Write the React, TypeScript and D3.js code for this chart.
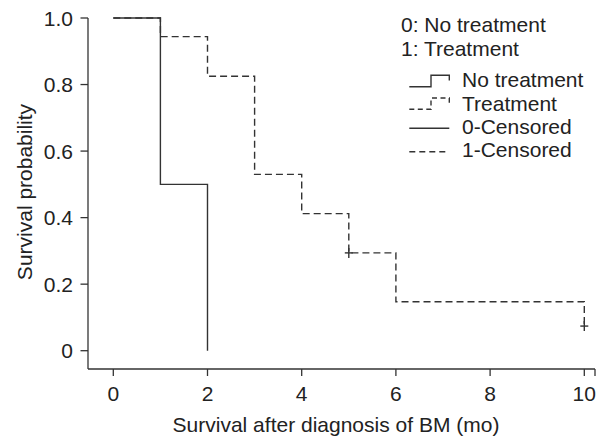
import React from "react";
import * as d3 from "d3";

const noTreatTimes = [0, 1, 2];
const noTreatSurv = [1.0, 0.5, 0.0];
const treatTimes = [0, 1, 2, 3, 4, 5, 6, 10];
const treatSurv = [1.0, 0.944, 0.825, 0.53, 0.412, 0.294, 0.147, 0.074];
const treatCensorTimes = [5, 10];
const treatCensorSurv = [0.294, 0.074];
const xTicks = [0, 2, 4, 6, 8, 10];
const yTicks = [0, 0.2, 0.4, 0.6, 0.8, 1.0];
const legendHeader = ["0: No treatment", "1: Treatment"];
const legendItems = ["No treatment", "Treatment", "0-Censored", "1-Censored"];

const W = 598;
const H = 438;
const FONT = "'Liberation Sans', Arial, Helvetica, sans-serif";
const INK = "#333";
const TXT = "#222";
const DASH = "7,4";

export default function App() {
  const x = d3.scaleLinear().domain([0, 10]).range([113.3, 584.3]);
  const y = d3.scaleLinear().domain([0, 1]).range([350.7, 18]);
  const axisX = 88;
  const axisY = 369;
  const xEnd = 595;

  const line = d3
    .line<[number, number]>()
    .x((d) => x(d[0]))
    .y((d) => y(d[1]))
    .curve(d3.curveStepAfter);

  const noTreatPts = noTreatTimes.map((t, i) => [t, noTreatSurv[i]] as [number, number]);
  const treatPts = treatTimes.map((t, i) => [t, treatSurv[i]] as [number, number]);

  const fmtY = (v: number) => (v === 0 ? "0" : d3.format(".1f")(v));

  const legX0 = 409.3;
  const legX1 = 431;
  const legX2 = 449.3;
  const legTextX = 462;
  const headerBase = [32.3, 55.7];
  const itemBase = [87.3, 110.7, 134, 157.3];

  return (
    <svg
      width={W}
      height={H}
      style={{ position: "absolute", left: 0, top: 0, background: "#fff" }}
      fontFamily={FONT}
    >
      <rect x={0} y={0} width={W} height={H} fill="#fff" />
      {/* axes */}
      <line x1={axisX} y1={y(1)} x2={axisX} y2={axisY} stroke={INK} strokeWidth={1.3} />
      <line x1={axisX} y1={axisY} x2={xEnd} y2={axisY} stroke={INK} strokeWidth={1.3} />
      <line x1={xEnd} y1={axisY} x2={xEnd} y2={axisY + 7} stroke={INK} strokeWidth={1.3} />
      {yTicks.map((v) => (
        <g key={"yt" + v}>
          <line x1={axisX - 7.5} x2={axisX} y1={y(v)} y2={y(v)} stroke={INK} strokeWidth={1.3} />
          <text
            x={73}
            y={y(v)}
            dy="0.36em"
            textAnchor="end"
            fontSize={21}
            fill={TXT}
          >
            {fmtY(v)}
          </text>
        </g>
      ))}
      {xTicks.map((v) => (
        <g key={"xt" + v}>
          <line x1={x(v)} x2={x(v)} y1={axisY} y2={axisY + 7} stroke={INK} strokeWidth={1.3} />
          <text x={x(v)} y={400.7} textAnchor="middle" fontSize={21} fill={TXT}>
            {v}
          </text>
        </g>
      ))}
      <text x={336} y={431.5} textAnchor="middle" fontSize={21} fill={TXT}>
        Survival after diagnosis of BM (mo)
      </text>
      <text
        transform={`translate(32,192) rotate(-90)`}
        textAnchor="middle"
        fontSize={21}
        fill={TXT}
      >
        Survival probability
      </text>

      {/* curves */}
      <path d={line(treatPts) || ""} fill="none" stroke={INK} strokeWidth={1.4} strokeDasharray={DASH} />
      <path d={line(noTreatPts) || ""} fill="none" stroke={INK} strokeWidth={1.4} />
      {treatCensorTimes.map((t, i) => (
        <g key={"c" + i} stroke={INK} strokeWidth={1.4}>
          <line x1={x(t) - 4} x2={x(t) + 4} y1={y(treatCensorSurv[i])} y2={y(treatCensorSurv[i])} />
          <line x1={x(t)} x2={x(t)} y1={y(treatCensorSurv[i]) - 5} y2={y(treatCensorSurv[i]) + 5} />
        </g>
      ))}

      {/* legend */}
      {legendHeader.map((s, i) => (
        <text key={s} x={401} y={headerBase[i]} fontSize={21} fill={TXT}>
          {s}
        </text>
      ))}
      <path
        d={`M${legX0},86.7 H${legX1} V75.3 H${legX2} V80.5`}
        fill="none"
        stroke={INK}
        strokeWidth={1.4}
      />
      <path
        d={`M${legX0},109.3 H${legX1} V98 H${legX2} V104`}
        fill="none"
        stroke={INK}
        strokeWidth={1.4}
        strokeDasharray="5,3.5"
      />
      <line x1={legX0} x2={legX2} y1={128.3} y2={128.3} stroke={INK} strokeWidth={1.4} />
      <line x1={legX0} x2={legX2} y1={151.7} y2={151.7} stroke={INK} strokeWidth={1.4} strokeDasharray="6,4" />
      {legendItems.map((s, i) => (
        <text key={s} x={legTextX} y={itemBase[i]} fontSize={21} fill={TXT}>
          {s}
        </text>
      ))}
    </svg>
  );
}
